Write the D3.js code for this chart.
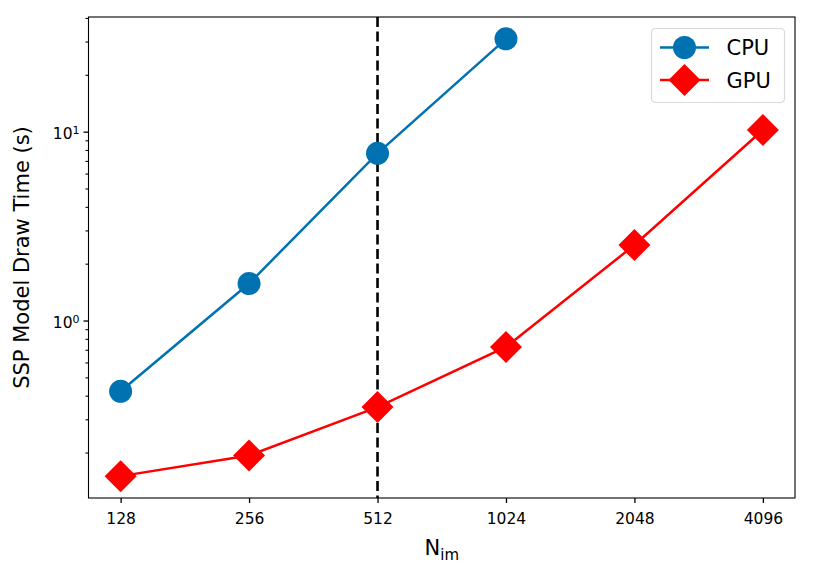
<!DOCTYPE html>
<html>
<head>
<meta charset="utf-8">
<script src="https://cdn.jsdelivr.net/npm/d3@7"></script>
<style>
  body { margin: 0; background: #fff; }
  svg text { font-family: "DejaVu Sans", sans-serif; }
</style>
</head>
<body>
<div id="chart"></div>
<script>
(function () {
  var width = 813, height = 574;
  var margin = {top: 17, right: 18, bottom: 76, left: 88.5};
  var FONT = "DejaVu Sans";

  var sizes = [128, 256, 512, 1024, 2048, 4096];
  var cpuTimes = [0.422, 1.57, 7.68, 31.0];
  var gpuTimes = [0.150, 0.193, 0.348, 0.725, 2.51, 10.2];
  var markLine = 512;
  var yMajor = [1, 10];

  var series = [
    {name: "CPU", color: "#0072b2", shape: "circle", values: cpuTimes},
    {name: "GPU", color: "#ff0000", shape: "diamond", values: gpuTimes}
  ];

  var svg = d3.select("#chart")
    .append("svg")
    .attr("width", width)
    .attr("height", height);

  var plotW = width - margin.left - margin.right,
      plotH = height - margin.top - margin.bottom;

  var g = svg.append("g")
    .attr("transform", "translate(" + margin.left + "," + margin.top + ")");

  // matplotlib-ish 5% margins in log space
  var lx = sizes.map(Math.log2);
  var xPad = (d3.max(lx) - d3.min(lx)) * 0.05;
  var x = d3.scaleLog().base(2)
    .domain([Math.pow(2, d3.min(lx) - xPad), Math.pow(2, d3.max(lx) + xPad)])
    .range([0, plotW]);

  var ly = cpuTimes.concat(gpuTimes).map(Math.log10);
  var yPad = (d3.max(ly) - d3.min(ly)) * 0.05;
  var y = d3.scaleLog()
    .domain([Math.pow(10, d3.min(ly) - yPad), Math.pow(10, d3.max(ly) + yPad)])
    .range([plotH, 0]);

  // x axis
  g.append("g")
    .attr("transform", "translate(0," + plotH + ")")
    .call(d3.axisBottom(x).tickValues(sizes).tickFormat(d3.format("d")).tickSize(5).tickPadding(10))
    .call(function (a) {
      a.select(".domain").remove();
      a.selectAll("line").attr("stroke", "#000").attr("stroke-width", 1.3);
      a.selectAll("text").attr("font-size", "15.5px").attr("fill", "#000")
        .attr("font-family", FONT);
    });

  // y axis: minor ticks
  var minor = y.ticks().filter(function (d) { return yMajor.indexOf(d) < 0; });
  g.append("g")
    .call(d3.axisLeft(y).tickValues(minor).tickFormat("").tickSize(3))
    .call(function (a) {
      a.select(".domain").remove();
      a.selectAll("line").attr("stroke", "#000").attr("stroke-width", 1.1);
    });

  // y axis: major ticks
  var yAx = g.append("g")
    .call(d3.axisLeft(y).tickValues(yMajor).tickFormat("").tickSize(5))
    .call(function (a) {
      a.select(".domain").remove();
      a.selectAll("line").attr("stroke", "#000").attr("stroke-width", 1.3);
    });
  yAx.selectAll(".tick").append("text")
    .attr("x", -9)
    .attr("dy", "0.42em")
    .attr("text-anchor", "end")
    .attr("fill", "#000")
    .attr("font-family", FONT)
    .attr("font-size", "15.5px")
    .each(function (d) {
      var t = d3.select(this);
      t.append("tspan").text("10");
      t.append("tspan").attr("dy", "-0.45em").attr("font-size", "11px")
        .text(String(Math.round(Math.log10(d))));
    });

  // dashed reference line
  g.append("line")
    .attr("x1", x(markLine)).attr("x2", x(markLine))
    .attr("y1", 0).attr("y2", plotH)
    .attr("stroke", "#000")
    .attr("stroke-width", 2.6)
    .attr("stroke-dasharray", "10,4.5");

  var line = d3.line()
    .x(function (d, i) { return x(sizes[i]); })
    .y(function (d) { return y(d); });

  function drawMarker(sel, s, cx, cy) {
    if (s.shape === "circle") {
      sel.append("circle").attr("cx", cx).attr("cy", cy).attr("r", 11.5)
        .attr("fill", s.color);
    } else {
      var h = 16;
      sel.append("path")
        .attr("d", "M" + cx + "," + (cy - h) + "L" + (cx + h) + "," + cy +
                   "L" + cx + "," + (cy + h) + "L" + (cx - h) + "," + cy + "Z")
        .attr("fill", s.color);
    }
  }

  series.forEach(function (s) {
    g.append("path")
      .datum(s.values)
      .attr("fill", "none")
      .attr("stroke", s.color)
      .attr("stroke-width", 2.5)
      .attr("d", line);
    var mg = g.append("g");
    s.values.forEach(function (v, i) {
      drawMarker(mg, s, x(sizes[i]), y(v));
    });
  });

  // frame
  g.append("rect")
    .attr("width", plotW).attr("height", plotH)
    .attr("fill", "none").attr("stroke", "#000").attr("stroke-width", 1.1);

  // legend
  var lg = g.append("g").attr("transform", "translate(" + (651.5 - margin.left) + "," + (28.5 - margin.top) + ")");
  lg.append("rect")
    .attr("width", 133).attr("height", 74).attr("rx", 4)
    .attr("fill", "#fff").attr("fill-opacity", 0.8)
    .attr("stroke", "#d9d9d9").attr("stroke-width", 1.2);
  series.forEach(function (s, i) {
    var cy = 19 + i * 32.5;
    lg.append("line")
      .attr("x1", 8.5).attr("x2", 57.5).attr("y1", cy).attr("y2", cy)
      .attr("stroke", s.color).attr("stroke-width", 2.5);
    drawMarker(lg, s, 33, cy);
    lg.append("text")
      .attr("x", 75).attr("y", cy).attr("dy", "0.36em")
      .attr("font-family", FONT)
      .attr("font-size", "21px").attr("fill", "#000")
      .text(s.name);
  });

  // axis labels
  var xl = svg.append("text")
    .attr("x", margin.left + plotW / 2)
    .attr("y", 555)
    .attr("text-anchor", "middle")
    .attr("font-family", FONT)
    .attr("font-size", "21px")
    .attr("fill", "#000");
  xl.append("tspan").text("N");
  xl.append("tspan").attr("dy", "0.3em").attr("font-size", "15px").text("im");

  svg.append("text")
    .attr("transform", "translate(29," + (margin.top + plotH / 2) + ") rotate(-90)")
    .attr("text-anchor", "middle")
    .attr("font-family", FONT)
    .attr("font-size", "21px")
    .attr("fill", "#000")
    .text("SSP Model Draw Time (s)");
})();
</script>
</body>
</html>
